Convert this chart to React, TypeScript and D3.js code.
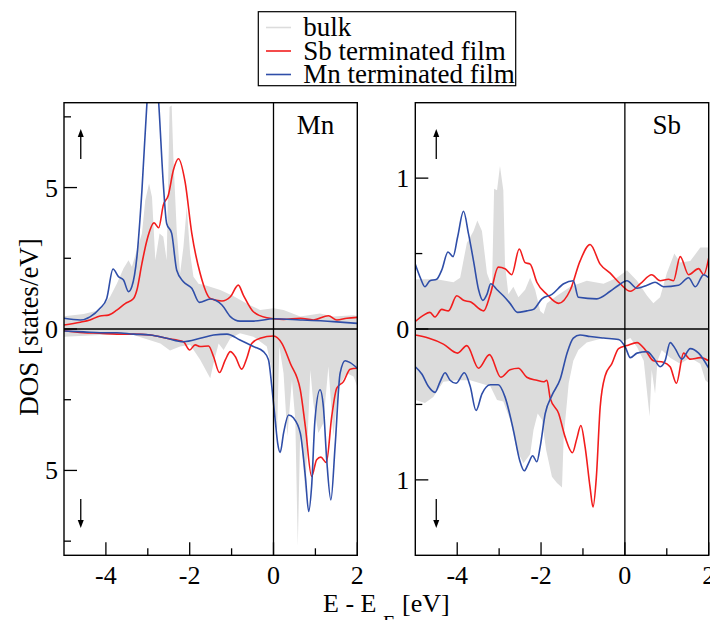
import React, { useEffect, useRef } from 'react';
import * as d3 from 'd3';

// energy axis (eV, relative to E_F)
const energyTicks = [-4, -2, 0, 2];
const energyMinorTicks = [-3, -1, 1];

// legend entries
const seriesNames = ['bulk', 'Sb terminated film', 'Mn terminated film'];
const seriesColors = ['#dcdcdc', '#f21d1d', '#2f4ea8'];

// ---- Mn panel, spin up: [E, DOS]
const mnBulkUp = [[-5.0,0.45],[-4.53,0.53],[-4.14,0.67],[-3.90,1.14],[-3.74,1.6],[-3.58,2.14],[-3.46,2.43],[-3.38,2.2],[-3.26,2.79],[-3.14,3.38],[-3.06,4.55],[-2.97,5.14],[-2.90,4.67],[-2.82,2.43],[-2.72,3.38],[-2.63,3.26],[-2.55,2.43],[-2.48,7.85],[-2.43,7.9],[-2.39,6.08],[-2.31,3.49],[-2.23,1.96],[-2.15,2.9],[-2.07,4.32],[-1.99,2.67],[-1.91,1.85],[-1.79,1.6],[-1.59,1.53],[-1.27,1.38],[-0.95,1.16],[-0.64,0.9],[-0.32,0.67],[0,0.73],[0.24,0.67],[0.64,0.44],[1.11,0.55],[1.43,0.44],[1.91,0.49],[2.0,0.46]];
const mnSbUp = [[-5.0,0.14],[-4.61,0.24],[-4.38,0.32],[-4.14,0.46],[-3.94,0.49],[-3.74,0.67],[-3.54,0.9],[-3.34,1.08],[-3.26,1.38],[-3.14,2.32],[-3.02,3.14],[-2.85,3.75],[-2.74,3.58],[-2.63,4.38],[-2.51,4.73],[-2.39,5.61],[-2.27,6.02],[-2.11,5.2],[-1.95,3.38],[-1.75,1.96],[-1.51,1.08],[-1.23,0.99],[-1.03,1.14],[-0.84,1.55],[-0.72,1.2],[-0.48,0.61],[-0.16,0.4],[0.24,0.34],[0.64,0.38],[0.95,0.32],[1.31,0.47],[1.51,0.32],[1.75,0.38],[2.0,0.41]];
const mnMnUp = [[-5.0,0.38],[-4.61,0.32],[-4.38,0.43],[-4.14,0.73],[-3.98,1.08],[-3.83,2.12],[-3.70,1.85],[-3.58,1.73],[-3.46,1.32],[-3.38,1.5],[-3.26,2.55],[-3.14,4.9],[-3.02,8.0],[-2.92,9.8],[-2.82,9.6],[-2.74,8.0],[-2.63,5.14],[-2.55,3.73],[-2.43,3.38],[-2.31,2.08],[-2.15,1.67],[-1.95,1.44],[-1.77,0.94],[-1.51,1.06],[-1.23,0.85],[-1.03,0.44],[-0.80,0.28],[-0.48,0.28],[0,0.36],[0.64,0.32],[1.43,0.26],[2.0,0.2]];

// ---- Mn panel, spin down (magnitudes)
const mnBulkDn = [[-5.0,0.27],[-4.14,0.21],[-3.34,0.21],[-2.70,0.51],[-2.47,0.76],[-2.23,0.62],[-1.99,0.56],[-1.75,1.09],[-1.51,1.74],[-1.43,1.21],[-1.31,0.51],[-1.19,0.74],[-1.03,0.33],[-0.80,0.15],[-0.48,0.27],[-0.16,0.62],[-0.04,1.45],[0.08,3.92],[0.14,0.62],[0.24,1.56],[0.33,3.8],[0.44,1.8],[0.52,3.21],[0.58,7.68],[0.64,3.45],[0.76,5.8],[0.88,1.45],[0.95,2.62],[1.07,3.68],[1.19,3.33],[1.31,1.33],[1.43,3.8],[1.55,2.04],[1.75,1.56],[1.91,1.68],[2.0,2.04]];
const mnSbDn = [[-5.0,0.06],[-4.53,0.13],[-4.14,0.15],[-3.74,0.18],[-3.34,0.18],[-2.94,0.21],[-2.55,0.33],[-2.15,0.45],[-2.00,0.74],[-1.87,0.56],[-1.75,0.62],[-1.55,0.6],[-1.43,0.98],[-1.29,1.54],[-1.15,1.09],[-1.03,0.8],[-0.91,0.98],[-0.76,1.42],[-0.64,1.04],[-0.52,0.51],[-0.32,0.33],[0,0.25],[0.20,0.51],[0.40,1.21],[0.64,2.15],[0.76,3.45],[0.91,5.21],[1.03,4.62],[1.13,4.53],[1.26,4.72],[1.39,3.09],[1.51,2.09],[1.67,1.86],[1.83,1.42],[2.0,1.39]];
const mnMnDn = [[-5.0,0.07],[-4.53,0.1],[-4.14,0.13],[-3.74,0.13],[-3.34,0.18],[-2.94,0.21],[-2.55,0.33],[-2.15,0.45],[-1.75,0.33],[-1.43,0.21],[-1.11,0.18],[-0.80,0.39],[-0.48,0.62],[-0.24,0.8],[-0.12,1.09],[-0.04,2.04],[0.04,3.21],[0.10,4.04],[0.16,4.36],[0.24,3.68],[0.36,3.04],[0.48,3.15],[0.64,3.68],[0.76,5.21],[0.84,6.45],[0.91,5.56],[0.99,3.21],[1.11,2.15],[1.19,2.74],[1.27,4.62],[1.37,6.04],[1.47,4.15],[1.59,1.56],[1.71,1.12],[1.83,1.19],[2.0,1.39]];

// ---- Sb panel, spin up
const sbBulkUp = [[-5.0,0.33],[-4.49,0.33],[-4.09,0.31],[-3.93,0.34],[-3.77,0.57],[-3.61,0.65],[-3.52,0.72],[-3.41,0.65],[-3.29,0.37],[-3.17,0.28],[-3.12,0.93],[-3.05,0.92],[-2.98,1.08],[-2.90,0.92],[-2.86,0.43],[-2.78,0.23],[-2.66,0.28],[-2.54,0.21],[-2.38,0.26],[-2.26,0.34],[-2.14,0.26],[-2.02,0.12],[-1.94,0.1],[-1.86,0.17],[-1.62,0.22],[-1.30,0.28],[-0.91,0.32],[-0.51,0.3],[-0.19,0.34],[0.05,0.39],[0.29,0.32],[0.53,0.22],[0.68,0.17],[0.84,0.21],[1.00,0.37],[1.18,0.5],[1.32,0.44],[1.56,0.45],[1.80,0.54],[2.0,0.54]];
const sbSbUp = [[-5.0,0.05],[-4.81,0.09],[-4.65,0.11],[-4.53,0.08],[-4.37,0.13],[-4.21,0.12],[-4.01,0.22],[-3.85,0.19],[-3.69,0.18],[-3.37,0.12],[-3.21,0.23],[-3.02,0.41],[-2.86,0.4],[-2.70,0.36],[-2.52,0.53],[-2.38,0.44],[-2.26,0.43],[-2.10,0.31],[-1.86,0.23],[-1.58,0.17],[-1.30,0.26],[-1.07,0.45],[-0.83,0.56],[-0.59,0.43],[-0.35,0.37],[-0.11,0.3],[0.13,0.25],[0.37,0.3],[0.64,0.36],[0.84,0.32],[1.04,0.33],[1.16,0.32],[1.32,0.48],[1.52,0.36],[1.76,0.4],[1.88,0.36],[2.0,0.47]];
const sbMnUp = [[-5.0,0.43],[-4.88,0.34],[-4.77,0.28],[-4.65,0.32],[-4.49,0.33],[-4.37,0.39],[-4.22,0.51],[-4.10,0.48],[-3.99,0.61],[-3.85,0.78],[-3.73,0.63],[-3.61,0.45],[-3.49,0.26],[-3.39,0.19],[-3.29,0.23],[-3.20,0.3],[-3.05,0.26],[-2.90,0.22],[-2.74,0.17],[-2.56,0.11],[-2.34,0.12],[-2.18,0.13],[-1.98,0.2],[-1.74,0.23],[-1.46,0.3],[-1.23,0.32],[-1.11,0.21],[-0.67,0.2],[-0.35,0.25],[-0.15,0.29],[0.05,0.32],[0.29,0.27],[0.53,0.29],[0.72,0.31],[0.92,0.28],[1.28,0.29],[1.52,0.34],[1.68,0.28],[1.88,0.36],[2.0,0.34]];

// ---- Sb panel, spin down (magnitudes)
const sbBulkDn = [[-5.0,0.47],[-4.77,0.49],[-4.57,0.45],[-4.33,0.35],[-4.01,0.34],[-3.69,0.34],[-3.45,0.36],[-3.21,0.38],[-3.05,0.47],[-2.90,0.48],[-2.74,0.6],[-2.58,0.8],[-2.42,0.89],[-2.26,0.83],[-2.18,0.67],[-2.08,0.56],[-1.98,0.6],[-1.88,0.8],[-1.74,0.98],[-1.62,1.02],[-1.50,1.05],[-1.46,0.72],[-1.34,0.36],[-1.23,0.21],[-1.11,0.14],[-0.91,0.09],[-0.51,0.06],[-0.03,0.08],[0.13,0.06],[0.29,0.12],[0.45,0.21],[0.59,0.58],[0.64,0.27],[0.72,0.43],[0.78,0.21],[0.88,0.14],[1.08,0.19],[1.32,0.23],[1.56,0.19],[1.80,0.23],[1.92,0.34],[2.0,0.36]];
const sbSbDn = [[-5.0,0.04],[-4.69,0.06],[-4.33,0.1],[-3.99,0.16],[-3.77,0.11],[-3.49,0.26],[-3.23,0.17],[-2.96,0.32],[-2.74,0.27],[-2.54,0.26],[-2.34,0.32],[-2.10,0.34],[-1.94,0.35],[-1.86,0.34],[-1.78,0.46],[-1.58,0.56],[-1.42,0.72],[-1.25,0.82],[-1.15,0.73],[-1.05,0.64],[-0.95,0.78],[-0.83,1.05],[-0.76,1.18],[-0.68,0.98],[-0.59,0.52],[-0.47,0.31],[-0.31,0.23],[-0.15,0.13],[0.05,0.11],[0.29,0.09],[0.49,0.14],[0.68,0.21],[0.92,0.22],[1.08,0.25],[1.23,0.36],[1.40,0.16],[1.56,0.2],[1.80,0.19],[2.0,0.21]];
const sbMnDn = [[-5.0,0.25],[-4.84,0.3],[-4.69,0.38],[-4.53,0.42],[-4.41,0.35],[-4.29,0.29],[-4.17,0.34],[-4.03,0.36],[-3.83,0.29],[-3.69,0.38],[-3.55,0.54],[-3.41,0.43],[-3.21,0.37],[-3.02,0.37],[-2.86,0.45],[-2.66,0.67],[-2.51,0.87],[-2.40,0.94],[-2.30,0.89],[-2.20,0.84],[-2.10,0.88],[-2.02,0.78],[-1.90,0.56],[-1.74,0.44],[-1.54,0.33],[-1.38,0.16],[-1.23,0.06],[-1.07,0.04],[-0.83,0.05],[-0.51,0.06],[-0.15,0.07],[0.01,0.12],[0.13,0.19],[0.29,0.16],[0.53,0.15],[0.68,0.19],[0.84,0.25],[0.96,0.21],[1.08,0.09],[1.20,0.13],[1.36,0.2],[1.56,0.13],[1.76,0.16],[2.0,0.26]];

const FONT = "'Liberation Serif', 'Times New Roman', serif";

const panels = [
  { id: 'mn', label: 'Mn', x0: 64, x1: 357.3, yMax: 8, major: [5], minor: [2.5, 7.5], arrowE: -4.6,
    up: [mnBulkUp, mnSbUp, mnMnUp], dn: [mnBulkDn, mnSbDn, mnMnDn] },
  { id: 'sb', label: 'Sb', x0: 415.3, x1: 708.7, yMax: 1.5, major: [1], minor: [0.5], arrowE: -4.5,
    up: [sbBulkUp, sbSbUp, sbMnUp], dn: [sbBulkDn, sbSbDn, sbMnDn] },
];

const App = () => {
  const svgRef = useRef<SVGSVGElement>(null);

  useEffect(() => {
    const svg = d3.select(svgRef.current);
    svg.selectAll('*').remove();
    const top = 102.7, bottom = 555.3;

    panels.forEach(p => {
      const x = d3.scaleLinear().domain([-5, 2]).range([p.x0, p.x1]);
      const y = d3.scaleLinear().domain([-p.yMax, p.yMax]).range([bottom, top]);

      svg.append('clipPath').attr('id', `clip-${p.id}`)
        .append('rect').attr('x', p.x0).attr('y', top).attr('width', p.x1 - p.x0).attr('height', bottom - top);
      const g = svg.append('g').attr('clip-path', `url(#clip-${p.id})`);

      // bulk as filled area
      const areaUp = d3.area<number[]>().x(d => x(d[0])).y0(y(0)).y1(d => y(d[1]));
      const areaDn = d3.area<number[]>().x(d => x(d[0])).y0(y(0)).y1(d => y(-d[1]));
      g.append('path').datum(p.up[0]).attr('fill', seriesColors[0]).attr('d', areaUp);
      g.append('path').datum(p.dn[0]).attr('fill', seriesColors[0]).attr('d', areaDn);

      const lineUp = d3.line<number[]>().curve(d3.curveMonotoneX).x(d => x(d[0])).y(d => y(d[1]));
      const lineDn = d3.line<number[]>().curve(d3.curveMonotoneX).x(d => x(d[0])).y(d => y(-d[1]));
      [1, 2].forEach(k => {
        g.append('path').datum(p.up[k]).attr('fill', 'none').attr('stroke', seriesColors[k]).attr('stroke-width', 1.6).attr('d', lineUp);
        g.append('path').datum(p.dn[k]).attr('fill', 'none').attr('stroke', seriesColors[k]).attr('stroke-width', 1.6).attr('d', lineDn);
      });

      // zero lines
      svg.append('line').attr('x1', p.x0).attr('x2', p.x1).attr('y1', y(0)).attr('y2', y(0)).attr('stroke', '#000').attr('stroke-width', 1.3);
      svg.append('line').attr('x1', x(0)).attr('x2', x(0)).attr('y1', top).attr('y2', bottom).attr('stroke', '#000').attr('stroke-width', 1.3);

      // frame
      svg.append('rect').attr('x', p.x0).attr('y', top).attr('width', p.x1 - p.x0).attr('height', bottom - top)
        .attr('fill', 'none').attr('stroke', '#000').attr('stroke-width', 1.4);

      // y ticks (inward), labels as magnitudes
      const yMajor = [0, ...p.major, ...p.major.map(v => -v)];
      const yMinor = [...p.minor, ...p.minor.map(v => -v)];
      yMajor.forEach(v => {
        svg.append('line').attr('x1', p.x0).attr('x2', p.x0 + 13).attr('y1', y(v)).attr('y2', y(v)).attr('stroke', '#000').attr('stroke-width', 1.3);
        svg.append('text').attr('x', p.x0 - 6).attr('y', y(v) + 9).attr('text-anchor', 'end')
          .attr('font-family', FONT).attr('font-size', 26).text(d3.format('d')(Math.abs(v)));
      });
      yMinor.forEach(v => {
        svg.append('line').attr('x1', p.x0).attr('x2', p.x0 + 7).attr('y1', y(v)).attr('y2', y(v)).attr('stroke', '#000').attr('stroke-width', 1.3);
      });

      // x ticks (inward)
      energyTicks.forEach(v => {
        svg.append('line').attr('x1', x(v)).attr('x2', x(v)).attr('y1', bottom).attr('y2', bottom - 13).attr('stroke', '#000').attr('stroke-width', 1.3);
        svg.append('text').attr('x', x(v)).attr('y', 583.5).attr('text-anchor', 'middle')
          .attr('font-family', FONT).attr('font-size', 26).text(v < 0 ? `-${Math.abs(v)}` : `${v}`);
      });
      energyMinorTicks.forEach(v => {
        svg.append('line').attr('x1', x(v)).attr('x2', x(v)).attr('y1', bottom).attr('y2', bottom - 7).attr('stroke', '#000').attr('stroke-width', 1.3);
      });

      // panel label
      svg.append('text').attr('x', x(1.0)).attr('y', 134).attr('text-anchor', 'middle')
        .attr('font-family', FONT).attr('font-size', 27).text(p.label);

      // spin arrows
      const ax = x(p.arrowE);
      const arrow = (yTail: number, yHead: number) => {
        const dir = yHead < yTail ? 1 : -1;
        svg.append('line').attr('x1', ax).attr('x2', ax).attr('y1', yTail).attr('y2', yHead + dir * 4)
          .attr('stroke', '#000').attr('stroke-width', 1.3);
        svg.append('path').attr('d', `M${ax},${yHead} L${ax - 3},${yHead + dir * 8} L${ax + 3},${yHead + dir * 8} Z`).attr('fill', '#000');
      };
      arrow(159, 129);
      arrow(499, 528);
    });

    // legend
    const lg = svg.append('g');
    lg.append('rect').attr('x', 258.3).attr('y', 11.7).attr('width', 257.4).attr('height', 74)
      .attr('fill', '#fff').attr('stroke', '#000').attr('stroke-width', 1.2);
    const rowY = [36, 59.5, 83];
    seriesNames.forEach((name, i) => {
      lg.append('line').attr('x1', 266).attr('x2', 291).attr('y1', rowY[i] - 8.5).attr('y2', rowY[i] - 8.5)
        .attr('stroke', seriesColors[i]).attr('stroke-width', 1.6);
      lg.append('text').attr('x', 303.3).attr('y', rowY[i]).attr('font-family', FONT).attr('font-size', 27).text(name);
    });

    // axis titles
    svg.append('text').attr('transform', 'translate(38,327) rotate(-90)').attr('text-anchor', 'middle')
      .attr('font-family', FONT).attr('font-size', 27).text('DOS [states/eV]');
    const xt = svg.append('text').attr('y', 612).attr('font-family', FONT).attr('font-size', 26);
    xt.append('tspan').attr('x', 323).text('E - E');
    xt.append('tspan').attr('x', 383).attr('y', 630).attr('font-size', 20).text('F');
    xt.append('tspan').attr('x', 402).attr('y', 612).text('[eV]');
  }, []);

  return (
    <svg ref={svgRef} width={710} height={620}
      style={{ position: 'absolute', left: 0, top: 0, background: '#fff' }} />
  );
};

export default App;
